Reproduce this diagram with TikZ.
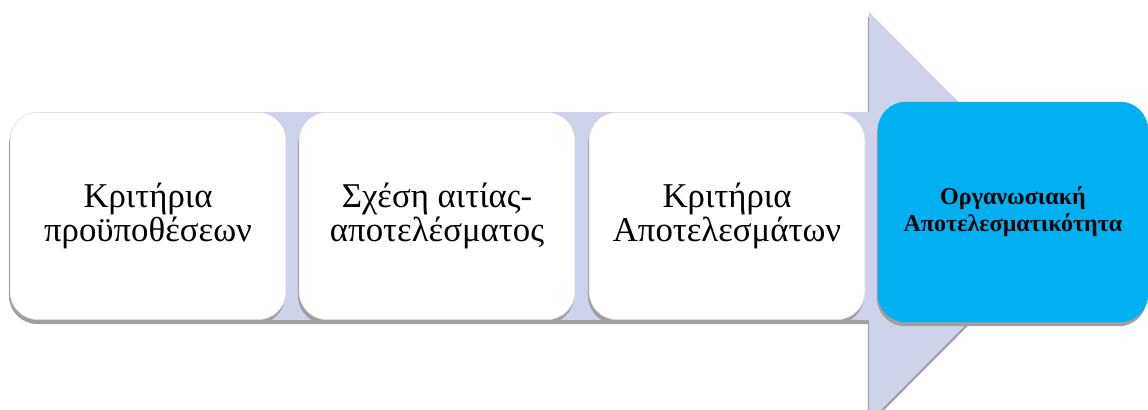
\documentclass[tikz,border=0pt]{standalone}
\usepackage{fontspec}
\setmainfont{Liberation Serif}
\usetikzlibrary{shadows}
\definecolor{bandcol}{RGB}{205,211,234}
\definecolor{boxcyan}{RGB}{0,176,240}

\tikzset{
  stage/.style={draw=gray!30, line width=0.3pt, fill=white, rounded corners=16pt,
    minimum width=5.52cm, minimum height=4.15cm, align=center,
    font=\fontsize{19.8}{17.2}\selectfont,
    drop shadow={shadow xshift=-0.6pt, shadow yshift=-2.4pt, fill=gray!75, opacity=1}},
  goal/.style={stage, fill=boxcyan, draw=boxcyan, minimum width=5.4cm, minimum height=4.4cm,
    font=\fontsize{13.7}{15.4}\selectfont\bfseries}
}

\begin{document}
\begin{tikzpicture}[x=0.02cm, y=-0.02cm]

  \useasboundingbox (0,0) rectangle (1148,409);
  \clip (0,0) rectangle (1148,409);

  % Background arrow
  \fill[bandcol, drop shadow={shadow xshift=-0.6pt, shadow yshift=-2.4pt, fill=gray!75, opacity=1}]
    (40,112) -- (869,112) -- (869,12) -- (1073,217) -- (869,422) -- (869,320) -- (40,320) -- cycle;

  % Stages
  \node[stage] (crit1) at (148,216) {Κριτήρια\\προϋποθέσεων};
  \node[stage] (cause) at (437,216) {Σχέση αιτίας-\\αποτελέσματος};
  \node[stage] (crit2) at (727,216) {Κριτήρια\\Αποτελεσμάτων};
  \node[goal] (eff) at (1013,212) {Οργανωσιακή\\Αποτελεσματικότητα};

\end{tikzpicture}
\end{document}
